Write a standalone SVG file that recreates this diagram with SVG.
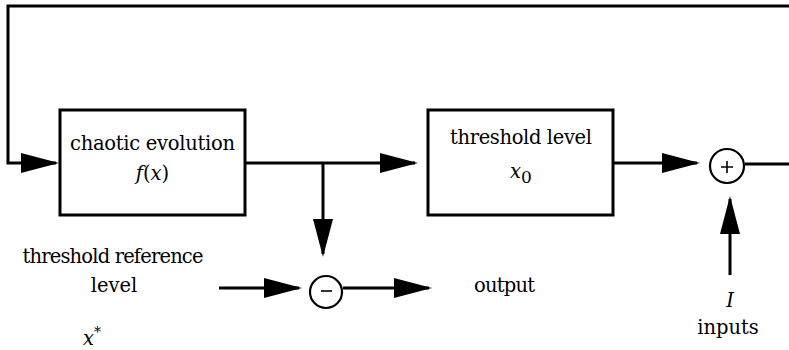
<svg xmlns="http://www.w3.org/2000/svg" width="789" height="350" viewBox="0 0 789 350">
<style>
  .box { fill: #fff; stroke: #000; stroke-width: 3; }
  .sum { fill: #fff; stroke: #000; stroke-width: 2.2; }
  .sign { stroke: #000; stroke-width: 1.6; fill: none; }
  .wire { fill: none; stroke: #000; stroke-width: 3; }
  .arr { marker-end: url(#ah); }
  .t { font-family: "DejaVu Serif", "Liberation Serif", serif; font-size: 19.5px; fill: #000; }
  .c { text-anchor: middle; }
  .i { font-style: italic; }
</style>
<defs>
  <marker id="ah" markerUnits="userSpaceOnUse" markerWidth="40" markerHeight="22" refX="35" refY="10" orient="auto">
    <path d="M0,0 L38,10 L0,20 z" fill="#000"/>
  </marker>
</defs>
<rect width="789" height="350" fill="#fff"/>
<g id="connectors">
  <path class="wire arr" d="M789,6 H8 V163 H56"/>
  <path class="wire arr" d="M245,163 H415"/>
  <path class="wire arr" d="M323,163 V254"/>
  <path class="wire arr" d="M613,163 H697"/>
  <path class="wire" d="M745,164 H789"/>
  <path class="wire arr" d="M730,275 V199"/>
  <path class="wire arr" d="M219,288 H299"/>
  <path class="wire arr" d="M343,288 H429"/>
</g>
<g id="chaotic">
  <rect class="box" x="60" y="110" width="185" height="105"/>
  <text class="t c" x="152.5" y="150" textLength="165">chaotic evolution</text>
  <text class="t c" x="152.5" y="180"><tspan class="i">f</tspan>(<tspan class="i">x</tspan>)</text>
</g>
<g id="threshold">
  <rect class="box" x="428" y="110" width="185" height="105"/>
  <text class="t c" x="521" y="144" textLength="142">threshold level</text>
  <text class="t c" x="521" y="178"><tspan class="i">x</tspan><tspan font-size="17" dy="5">0</tspan></text>
</g>
<g id="plus">
  <circle class="sum" cx="727" cy="166" r="17"/>
  <path class="sign" d="M721,167 H733 M727,161 V173"/>
</g>
<g id="minus">
  <circle class="sum" cx="326" cy="292" r="16"/>
  <path class="sign" d="M321,291 H332"/>
</g>
<g id="reference">
  <text class="t c" x="113" y="263" textLength="181">threshold reference</text>
  <text class="t c" x="114" y="292">level</text>
  <text class="t" x="83" y="345"><tspan class="i">x</tspan><tspan font-size="14" dy="-8">*</tspan></text>
</g>
<g id="output">
  <text class="t" x="474" y="292" textLength="61">output</text>
</g>
<g id="inputs">
  <text class="t c i" x="730" y="307">I</text>
  <text class="t c" x="728" y="334">inputs</text>
</g>
</svg>
